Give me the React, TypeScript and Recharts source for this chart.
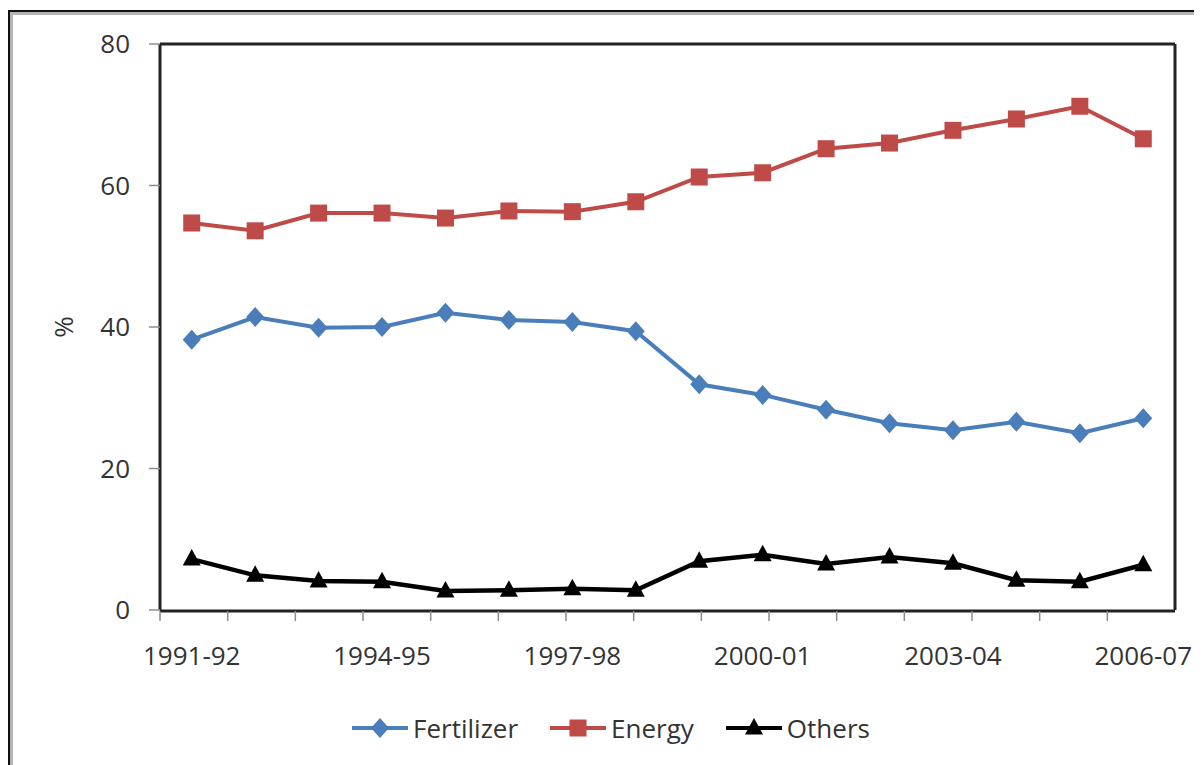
import React from "react";
import { LineChart, Line, XAxis, YAxis, Legend } from "recharts";

const years = [
  "1991-92", "1992-93", "1993-94", "1994-95", "1995-96", "1996-97", "1997-98", "1998-99",
  "1999-00", "2000-01", "2001-02", "2002-03", "2003-04", "2004-05", "2005-06", "2006-07",
];
const fertilizer = [38.2, 41.4, 39.9, 40.0, 42.0, 41.0, 40.7, 39.4, 31.9, 30.4, 28.3, 26.4, 25.4, 26.6, 25.0, 27.1];
const energy = [54.7, 53.6, 56.1, 56.1, 55.4, 56.4, 56.3, 57.7, 61.2, 61.8, 65.2, 66.0, 67.8, 69.4, 71.2, 66.6];
const others = [7.2, 4.9, 4.1, 4.0, 2.7, 2.8, 3.0, 2.8, 6.9, 7.8, 6.5, 7.5, 6.6, 4.2, 4.0, 6.4];
const yTicks = [0, 20, 40, 60, 80];

// tick marks sit on the band edges, labels on band centres
const edgeTicks = years.map((_, i) => i).concat(years.length);

const series = [
  { key: "fertilizer", name: "Fertilizer", color: "#4A7EBB", shape: "diamond", width: 4 },
  { key: "energy", name: "Energy", color: "#BE4B48", shape: "square", width: 4 },
  { key: "others", name: "Others", color: "#000000", shape: "triangle", width: 4.5 },
];

const data = years.map((year, i) => ({
  year,
  fertilizer: fertilizer[i],
  energy: energy[i],
  others: others[i],
}));

const FONT = "'Open Sans', 'Noto Sans', sans-serif";
const TEXT = "#333333";

function marker(shape: string, cx: number, cy: number, color: string, key?: string) {
  if (shape === "diamond") {
    return <path key={key} d={`M${cx},${cy - 10}L${cx + 9},${cy}L${cx},${cy + 10}L${cx - 9},${cy}Z`} fill={color} />;
  }
  if (shape === "square") {
    return <rect key={key} x={cx - 8.5} y={cy - 8.5} width={17} height={17} fill={color} />;
  }
  return <path key={key} d={`M${cx},${cy - 10}L${cx + 9},${cy + 6.5}L${cx - 9},${cy + 6.5}Z`} fill={color} />;
}

function renderLegend() {
  return (
    <div style={{ display: "flex", justifyContent: "center", alignItems: "center", paddingLeft: 11 }}>
      {series.map((s, i) => (
        <div
          key={s.key}
          style={{ display: "flex", alignItems: "center", marginRight: i === series.length - 1 ? 0 : 32 }}
        >
          <svg width={56} height={24}>
            <line x1={0} y1={12} x2={56} y2={12} stroke={s.color} strokeWidth={4} />
            {marker(s.shape, 28, 12, s.color)}
          </svg>
          <span style={{ marginLeft: 5, fontSize: 26, color: TEXT, fontFamily: FONT }}>{s.name}</span>
        </div>
      ))}
    </div>
  );
}

export default function App() {
  return (
    <div
      style={{
        position: "relative",
        top: 2,
        width: 1195,
        height: 760,
        border: "2px solid #111",
        fontFamily: FONT,
        background: "#fff",
      }}
    >
      <div style={{ border: "3px solid #b4b4b4", height: 754 }}>
        <LineChart width={1185} height={750} data={data} margin={{ top: 28, right: 22, left: 0, bottom: 153 }}>
          <XAxis
            xAxisId="edges"
            type="number"
            domain={[0, years.length]}
            ticks={edgeTicks}
            allowDataOverflow
            height={1}
            tickSize={10}
            tick={() => <g />}
            tickLine={{ stroke: "#8c8c8c", strokeWidth: 1.5 }}
            axisLine={{ stroke: "#222", strokeWidth: 3 }}
          />
          <XAxis
            xAxisId="cat"
            dataKey="year"
            scale="band"
            height={1}
            interval={2}
            tickLine={false}
            axisLine={false}
            tickMargin={31}
            tick={{ fontSize: 26, fill: TEXT }}
          />
          <XAxis
            xAxisId="top"
            orientation="top"
            dataKey="year"
            height={1}
            tick={false}
            tickLine={false}
            axisLine={{ stroke: "#222", strokeWidth: 3 }}
          />
          <YAxis
            yAxisId="left"
            domain={[0, 80]}
            ticks={yTicks}
            width={147}
            tickSize={11}
            tickMargin={19}
            tick={{ fontSize: 26, fill: TEXT }}
            tickLine={{ stroke: "#8c8c8c", strokeWidth: 1.5 }}
            axisLine={{ stroke: "#222", strokeWidth: 3 }}
            label={{
              content: (p: any) => {
                const vb = p.viewBox || { x: 0, y: 0, height: 0 };
                const cx = vb.x + 50;
                const cy = vb.y + vb.height / 2;
                return (
                  <text
                    x={cx}
                    y={cy}
                    transform={`rotate(-90 ${cx} ${cy})`}
                    textAnchor="middle"
                    dominantBaseline="central"
                    fontSize={26}
                    fill={TEXT}
                  >
                    %
                  </text>
                );
              },
            }}
          />
          <YAxis
            yAxisId="right"
            orientation="right"
            domain={[0, 80]}
            width={1}
            tick={false}
            tickLine={false}
            axisLine={{ stroke: "#222", strokeWidth: 3 }}
          />
          <Legend
            layout="horizontal"
            verticalAlign="middle"
            align="center"
            content={renderLegend}
            wrapperStyle={{ top: 695, left: 0, width: 1185 }}
          />
          {series.map((s) => (
            <Line
              key={s.key}
              xAxisId="cat"
              yAxisId="left"
              type="linear"
              dataKey={s.key}
              name={s.name}
              stroke={s.color}
              strokeWidth={s.width}
              dot={(p: any) => marker(s.shape, p.cx, p.cy, s.color, `${s.key}-${p.index}`)}
              activeDot={false}
              isAnimationActive={false}
            />
          ))}
        </LineChart>
      </div>
    </div>
  );
}
